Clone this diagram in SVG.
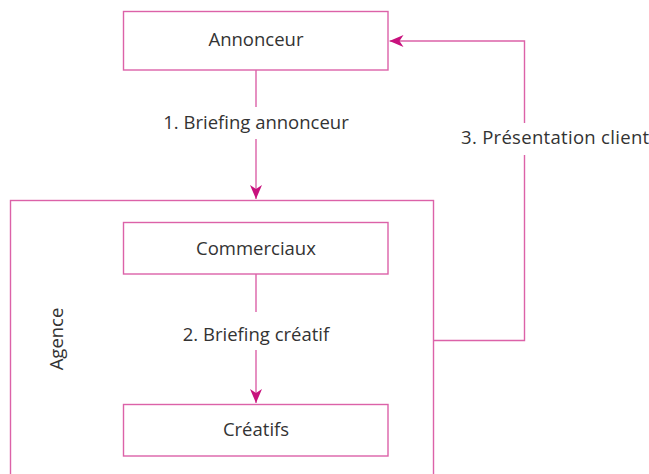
<svg xmlns="http://www.w3.org/2000/svg" width="649" height="474" viewBox="0 0 649 474">
<style>
.box{fill:#fff;stroke:#dc62a8;stroke-width:1.4}
.ln{fill:none;stroke:#dc62a8;stroke-width:1.4}
text{font-family:"Open Sans","Noto Sans",sans-serif;font-size:18.5px;fill:#333}
.c{text-anchor:middle}
</style>
<defs>
<marker id="ah" viewBox="0 0 14 12" refX="14" refY="6" markerWidth="14" markerHeight="12" markerUnits="userSpaceOnUse" orient="auto">
<path d="M0,0 L14,6 L0,12 L4,6 Z" fill="#c8117d"/>
</marker>
</defs>
<rect width="649" height="474" fill="#fff"/>
<g id="agence">
<rect class="box" x="10.5" y="200.5" width="423" height="290"/>
<text class="c" transform="translate(63,339) rotate(-90)">Agence</text>
</g>
<g id="connectors">
<path class="ln" d="M256,70 V107 M256,139 V199" marker-end="url(#ah)"/>
<path class="ln" d="M256,274 V312 M256,350 V403" marker-end="url(#ah)"/>
<path class="ln" d="M433,340.5 H524.5 V41 H389.5" marker-end="url(#ah)"/>
<rect x="452" y="123" width="197" height="32" fill="#fff"/>
<text class="c" x="256" y="129">1. Briefing annonceur</text>
<text class="c" x="256" y="341">2. Briefing créatif</text>
<text x="461" y="143.5" letter-spacing="0.3">3. Présentation client</text>
</g>
<g id="annonceur">
<rect class="box" x="123.5" y="11.5" width="264.5" height="58.5"/>
<text class="c" x="256" y="46">Annonceur</text>
</g>
<g id="commerciaux">
<rect class="box" x="123.5" y="222.5" width="264.5" height="51.5"/>
<text class="c" x="256" y="255">Commerciaux</text>
</g>
<g id="creatifs">
<rect class="box" x="123.5" y="404.5" width="264.5" height="51.5"/>
<text class="c" x="256" y="436">Créatifs</text>
</g>
</svg>
